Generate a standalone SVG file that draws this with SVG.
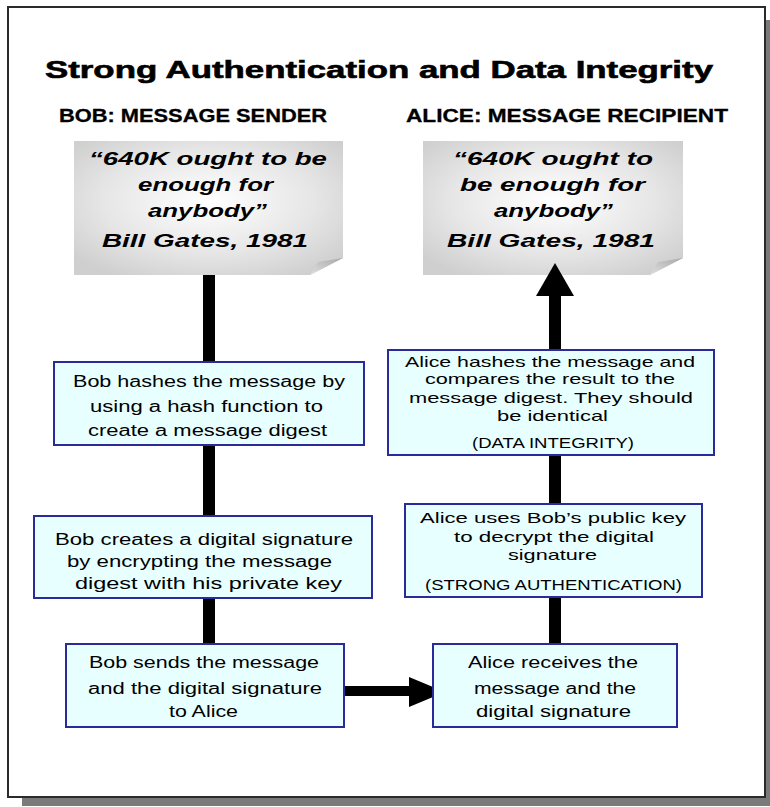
<svg xmlns="http://www.w3.org/2000/svg" width="770" height="807" viewBox="0 0 770 807">
  <defs>
    <radialGradient id="noteGrad" cx="50%" cy="45%" r="65%">
      <stop offset="0" stop-color="#ffffff"/>
      <stop offset="0.6" stop-color="#e6e6e6"/>
      <stop offset="1" stop-color="#cfcfcf"/>
    </radialGradient>
    <linearGradient id="curlGrad" x1="0" y1="1" x2="1" y2="0">
      <stop offset="0" stop-color="#e0e0e0"/>
      <stop offset="1" stop-color="#a8a8a8"/>
    </linearGradient>
    <style>
      .frame { fill: #ffffff; stroke: #2b2b2b; stroke-width: 2; }
      .shadow { fill: #7a7a7a; }
      .title { font-family: "Liberation Sans", Arial, sans-serif; font-weight: bold; font-size: 24px; fill: #000; stroke: #000; stroke-width: 0.6; }
      .sub { font-family: "Liberation Sans", Arial, sans-serif; font-weight: bold; font-size: 18px; fill: #000; stroke: #000; stroke-width: 0.3; }
      .note { fill: url(#noteGrad); }
      .curl { fill: url(#curlGrad); }
      .ntext { font-family: "Liberation Sans", Arial, sans-serif; font-weight: bold; font-style: italic; font-size: 19px; fill: #000; }
      .box { fill: #e8ffff; stroke: #2a2a9a; stroke-width: 2; }
      .btext { font-family: "Liberation Sans", Arial, sans-serif; font-size: 16px; fill: #000; }
      .btext2 { font-family: "Liberation Sans", Arial, sans-serif; font-size: 15px; fill: #000; }
      .line { fill: #000; }
    </style>
  </defs>

  <!-- frame with shadow -->
  <rect class="shadow" x="22" y="797" width="748" height="9"/>
  <rect class="shadow" x="765" y="20" width="5" height="786"/>
  <rect class="frame" x="8" y="7" width="757" height="790"/>

  <text class="title" x="45" y="78" textLength="668" lengthAdjust="spacingAndGlyphs">Strong Authentication and Data Integrity</text>
  <text class="sub" x="59" y="122" textLength="268" lengthAdjust="spacingAndGlyphs">BOB:  MESSAGE SENDER</text>
  <text class="sub" x="406" y="122" textLength="322" lengthAdjust="spacingAndGlyphs">ALICE:  MESSAGE RECIPIENT</text>

  <!-- notes -->
  <g id="note-bob">
    <polygon class="note" points="74,141 343,141 343,258 310,275 74,275"/>
    <polygon class="curl" points="343,258 310,275 318,262"/>
    <text class="ntext" x="89" y="165" textLength="238" lengthAdjust="spacingAndGlyphs">“640K ought to be</text>
    <text class="ntext" x="138" y="191" textLength="135" lengthAdjust="spacingAndGlyphs">enough for</text>
    <text class="ntext" x="148" y="217" textLength="119" lengthAdjust="spacingAndGlyphs">anybody”</text>
    <text class="ntext" x="102" y="247" textLength="206" lengthAdjust="spacingAndGlyphs">Bill Gates, 1981</text>
  </g>
  <g id="note-alice">
    <polygon class="note" points="423,141 683,141 683,258 650,275 423,275"/>
    <polygon class="curl" points="683,258 650,275 658,262"/>
    <text class="ntext" x="453" y="165" textLength="200" lengthAdjust="spacingAndGlyphs">“640K ought to</text>
    <text class="ntext" x="460" y="191" textLength="185" lengthAdjust="spacingAndGlyphs">be enough for</text>
    <text class="ntext" x="494" y="217" textLength="119" lengthAdjust="spacingAndGlyphs">anybody”</text>
    <text class="ntext" x="447" y="247" textLength="208" lengthAdjust="spacingAndGlyphs">Bill Gates, 1981</text>
  </g>

  <!-- connectors -->
  <g id="connectors">
    <rect class="line" x="203" y="275" width="12" height="370"/>
    <rect class="line" x="549" y="294" width="12" height="351"/>
    <polygon class="line" points="555,263 574,296 536,296"/>
    <rect class="line" x="344" y="686" width="67" height="10"/>
    <polygon class="line" points="409,677 445,692 409,707"/>
  </g>

  <!-- Bob boxes -->
  <g id="bob-hash">
    <rect class="box" x="54" y="362" width="310" height="83"/>
    <text class="btext" x="73" y="387" textLength="272" lengthAdjust="spacingAndGlyphs">Bob hashes the message by</text>
    <text class="btext" x="90" y="412" textLength="233" lengthAdjust="spacingAndGlyphs">using a hash function to</text>
    <text class="btext" x="88" y="436" textLength="239" lengthAdjust="spacingAndGlyphs">create a message digest</text>
  </g>
  <g id="bob-sign">
    <rect class="box" x="34" y="516" width="338" height="82"/>
    <text class="btext" x="55" y="545" textLength="298" lengthAdjust="spacingAndGlyphs">Bob creates a digital signature</text>
    <text class="btext" x="67" y="567" textLength="265" lengthAdjust="spacingAndGlyphs">by encrypting the message</text>
    <text class="btext" x="75" y="589" textLength="267" lengthAdjust="spacingAndGlyphs">digest with his private key</text>
  </g>
  <g id="bob-send">
    <rect class="box" x="66" y="644" width="278" height="83"/>
    <text class="btext" x="89" y="668" textLength="230" lengthAdjust="spacingAndGlyphs">Bob sends the message</text>
    <text class="btext" x="88" y="694" textLength="234" lengthAdjust="spacingAndGlyphs">and the digital signature</text>
    <text class="btext" x="169" y="717" textLength="69" lengthAdjust="spacingAndGlyphs">to Alice</text>
  </g>

  <!-- Alice boxes -->
  <g id="alice-receive">
    <rect class="box" x="433" y="644" width="244" height="83"/>
    <text class="btext" x="468" y="668" textLength="170" lengthAdjust="spacingAndGlyphs">Alice receives the</text>
    <text class="btext" x="474" y="694" textLength="162" lengthAdjust="spacingAndGlyphs">message and the</text>
    <text class="btext" x="476" y="717" textLength="155" lengthAdjust="spacingAndGlyphs">digital signature</text>
  </g>
  <g id="alice-decrypt">
    <rect class="box" x="405" y="504" width="297" height="93"/>
    <text class="btext2" x="420" y="523" textLength="266" lengthAdjust="spacingAndGlyphs">Alice uses Bob’s public key</text>
    <text class="btext2" x="454" y="542" textLength="200" lengthAdjust="spacingAndGlyphs">to decrypt the digital</text>
    <text class="btext2" x="508" y="560" textLength="89" lengthAdjust="spacingAndGlyphs">signature</text>
    <text class="btext2" x="425" y="590" textLength="257" lengthAdjust="spacingAndGlyphs">(STRONG AUTHENTICATION)</text>
  </g>
  <g id="alice-compare">
    <rect class="box" x="388" y="350" width="326" height="105"/>
    <text class="btext2" x="405" y="367" textLength="290" lengthAdjust="spacingAndGlyphs">Alice hashes the message and</text>
    <text class="btext2" x="425" y="384" textLength="250" lengthAdjust="spacingAndGlyphs">compares the result to the</text>
    <text class="btext2" x="409" y="403" textLength="284" lengthAdjust="spacingAndGlyphs">message digest. They should</text>
    <text class="btext2" x="497" y="421" textLength="111" lengthAdjust="spacingAndGlyphs">be identical</text>
    <text class="btext2" x="472" y="448" textLength="162" lengthAdjust="spacingAndGlyphs">(DATA INTEGRITY)</text>
  </g>
</svg>
